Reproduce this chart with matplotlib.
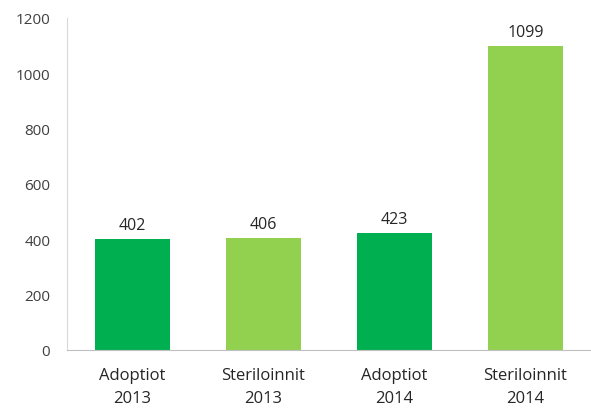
import matplotlib
matplotlib.use("Agg")
from matplotlib import pyplot as plt

categories = ["Adoptiot\n2013", "Steriloinnit\n2013", "Adoptiot\n2014", "Steriloinnit\n2014"]
values = [402, 406, 423, 1099]
colors = ["#00b050", "#92d050", "#00b050", "#92d050"]
yticks = [0, 200, 400, 600, 800, 1000, 1200]

plt.rcParams['font.family'] = ['Open Sans', 'DejaVu Sans']

fig = plt.figure(figsize=(5.91, 4.10), dpi=100)
ax = fig.add_axes([67 / 591, 1 - 351 / 410, 1 - 67 / 591, (351 - 19) / 410])

x = list(range(len(categories)))
bars = ax.bar(x, values, width=0.57, color=colors)

for b, v in zip(bars, values):
    ax.annotate(str(v), (b.get_x() + b.get_width() / 2, v), xytext=(0, 4),
                textcoords="offset points", ha="center", va="bottom",
                fontsize=11.5, color="#262626")

ax.set_xlim(-0.5, len(categories) - 0.5)
ax.set_ylim(0, 1200)
ax.set_yticks(yticks)
ax.set_xticks(x)
ax.set_xticklabels(categories, fontsize=12, color="#262626", linespacing=1.6)
ax.tick_params(axis="y", length=0, pad=12, labelsize=11, labelcolor="#404040")
ax.tick_params(axis="x", length=0, pad=12)

for s in ["top", "right"]:
    ax.spines[s].set_visible(False)
ax.spines["left"].set_color("#d9d9d9")
ax.spines["bottom"].set_color("#bfbfbf")

fig.savefig("out.png", dpi=100)
